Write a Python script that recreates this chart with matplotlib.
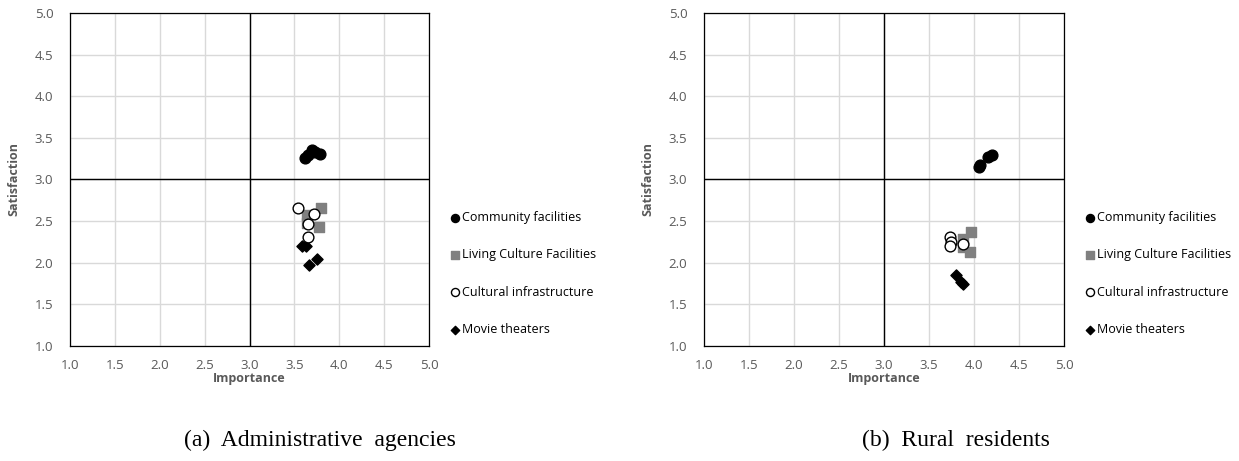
import numpy as np
import matplotlib.pyplot as plt

# panel (a) administrative agencies
a_comm_x = [3.62, 3.65, 3.70, 3.73, 3.78]
a_comm_y = [3.26, 3.29, 3.35, 3.33, 3.31]
a_living_x = [3.64, 3.64, 3.80, 3.77]
a_living_y = [2.57, 2.48, 2.66, 2.43]
a_cult_x = [3.54, 3.72, 3.65, 3.65]
a_cult_y = [2.66, 2.59, 2.47, 2.31]
a_movie_x = [3.59, 3.63, 3.66, 3.75]
a_movie_y = [2.20, 2.20, 1.97, 2.04]

# panel (b) rural residents
b_comm_x = [4.05, 4.07, 4.15, 4.20]
b_comm_y = [3.15, 3.17, 3.27, 3.30]
b_living_x = [3.88, 3.88, 3.97, 3.96]
b_living_y = [2.28, 2.19, 2.37, 2.13]
b_cult_x = [3.73, 3.74, 3.73, 3.88]
b_cult_y = [2.31, 2.25, 2.20, 2.22]
b_movie_x = [3.80, 3.86, 3.88]
b_movie_y = [1.85, 1.77, 1.75]

labels = ["Community facilities", "Living Culture Facilities",
          "Cultural infrastructure", "Movie theaters"]
ticks = [1.0, 1.5, 2.0, 2.5, 3.0, 3.5, 4.0, 4.5, 5.0]
captions = ["(a)  Administrative  agencies", "(b)  Rural  residents"]

grey = "#595959"


def draw(ax, comm, living, cult, movie):
    ax.scatter(comm[0], comm[1], marker="o", s=60, color="black", label=labels[0], zorder=3)
    ax.scatter(living[0], living[1], marker="s", s=55, color="#808080", label=labels[1], zorder=3)
    ax.scatter(cult[0], cult[1], marker="o", s=60, facecolor="white", edgecolor="black",
               linewidth=1.0, label=labels[2], zorder=4)
    ax.scatter(movie[0], movie[1], marker="D", s=32, color="black", label=labels[3], zorder=3)
    ax.set_xlim(1, 5)
    ax.set_ylim(1, 5)
    ax.set_xticks(ticks)
    ax.set_yticks(ticks)
    ax.set_xticklabels(["%.1f" % t for t in ticks])
    ax.set_yticklabels(["%.1f" % t for t in ticks])
    ax.grid(True, color="#d9d9d9", linewidth=1.0)
    ax.set_axisbelow(True)
    ax.axvline(3, color="black", linewidth=1.0, zorder=2)
    ax.axhline(3, color="black", linewidth=1.0, zorder=2)
    for sp in ax.spines.values():
        sp.set_color("black")
        sp.set_linewidth(0.9)
    ax.tick_params(length=0, labelsize=9.5, labelcolor=grey)
    ax.tick_params(axis="x", pad=9)
    ax.tick_params(axis="y", pad=12)
    ax.set_xlabel("Importance", fontsize=9, fontweight="bold", color=grey, labelpad=0)
    ax.set_ylabel("Satisfaction", fontsize=9, fontweight="bold", color=grey, labelpad=10)
    ax.legend(loc="center left", bbox_to_anchor=(1.045, 0.218), frameon=False,
              labelspacing=1.95, handletextpad=0.15, markerscale=0.75, fontsize=9,
              borderaxespad=0, handlelength=0.8)


plt.rcParams["font.family"] = ["Open Sans", "DejaVu Sans"]
fig = plt.figure(figsize=(12.39, 4.61), dpi=100)
ax1 = fig.add_axes([70 / 1239, 1 - 346 / 461, 359 / 1239, 333 / 461])
ax2 = fig.add_axes([704 / 1239, 1 - 346 / 461, 360 / 1239, 333 / 461])

draw(ax1, (a_comm_x, a_comm_y), (a_living_x, a_living_y), (a_cult_x, a_cult_y),
     (a_movie_x, a_movie_y))
draw(ax2, (b_comm_x, b_comm_y), (b_living_x, b_living_y), (b_cult_x, b_cult_y),
     (b_movie_x, b_movie_y))

fig.text(320 / 1239, 1 - 440 / 461, captions[0], ha="center", va="center",
         fontsize=17, family="Liberation Serif")
fig.text(956 / 1239, 1 - 440 / 461, captions[1], ha="center", va="center",
         fontsize=17, family="Liberation Serif")

fig.savefig("out.png", dpi=100)
